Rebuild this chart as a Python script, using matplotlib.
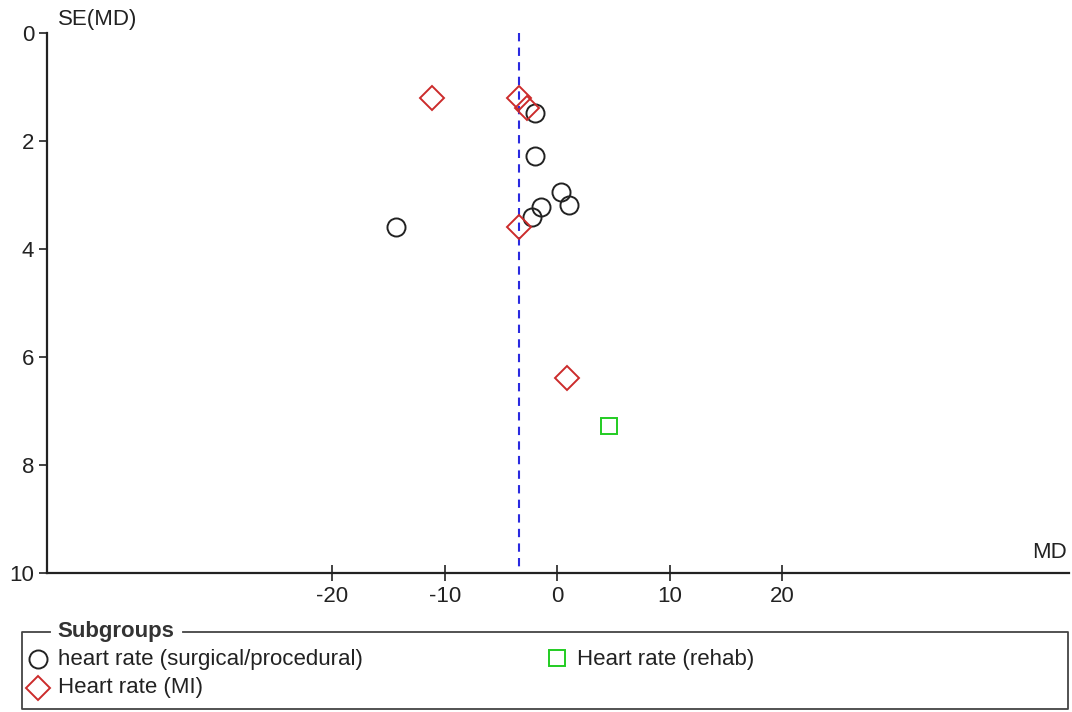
import matplotlib
matplotlib.use('Agg')
import matplotlib.pyplot as plt

# funnel plot data: mean difference (MD) vs its standard error
surg_md = [-2.0, -2.0, 0.3, 1.05, -1.45, -2.25, -14.3]
surg_se = [1.49, 2.28, 2.94, 3.19, 3.22, 3.40, 3.59]
mi_md = [-11.1, -3.4, -2.65, -3.4, 0.9]
mi_se = [1.20, 1.20, 1.39, 3.60, 6.38]
rehab_md = [4.6]
rehab_se = [7.28]
pooled_md = -3.4

x_ticks = [-20, -10, 0, 10, 20]
y_ticks = [0, 2, 4, 6, 8, 10]
legend_labels = ['heart rate (surgical/procedural)', 'Heart rate (MI)', 'Heart rate (rehab)']

plt.rcParams['font.family'] = ['Liberation Sans', 'DejaVu Sans']
FS = 16
TXT = '#222222'

W, H = 1072, 712
fig = plt.figure(figsize=(W / 100, H / 100), dpi=100)
ax = fig.add_axes([46.7 / W, 1 - 573 / H, (1069 - 46.7) / W, 540 / H])

ax.plot(surg_md, surg_se, 'o', ms=13, mfc='none', mec='#222222', mew=1.4, clip_on=False, zorder=3)
ax.plot(mi_md, mi_se, 'D', ms=12.5, mfc='none', mec='#cc2b2b', mew=1.4, clip_on=False, zorder=3)
ax.plot(rehab_md, rehab_se, 's', ms=11.5, mfc='none', mec='#22cc22', mew=1.4, clip_on=False, zorder=3)
ax.plot([pooled_md, pooled_md], [0, 10], '--', color='#2a2ae0', lw=1.5, dashes=(4, 3), zorder=2)

ax.set_xlim(-45.4, 45.5)
ax.set_ylim(10, 0)
ax.set_xticks(x_ticks)
ax.set_yticks(y_ticks)
ax.set_xticklabels([str(t) for t in x_ticks])
ax.set_yticklabels([str(t) for t in y_ticks])
for s in ['top', 'right']:
    ax.spines[s].set_visible(False)
for s in ['left', 'bottom']:
    ax.spines[s].set_linewidth(1.6)
    ax.spines[s].set_color('#222222')
ax.tick_params(axis='x', direction='inout', length=12, width=1.2, color='#222222',
               labelsize=FS, labelcolor=TXT, pad=3)
ax.tick_params(axis='y', direction='out', length=6, width=1.2, color='#222222',
               labelsize=FS, labelcolor=TXT, pad=3)

fig.text(58 / W, 1 - 19 / H, 'SE(MD)', fontsize=FS, color=TXT, va='center', ha='left')
fig.text(1067 / W, 1 - 553 / H, 'MD', fontsize=FS, color=TXT, va='center', ha='right')

# legend box drawn by hand (title breaks the top border)
lg = fig.add_axes([0, 0, 1, 1])
lg.set_xlim(0, W)
lg.set_ylim(H, 0)
lg.axis('off')
box_c = '#444444'
lg.plot([50, 22, 22, 1068, 1068, 183], [632, 632, 709, 709, 632, 632], color=box_c, lw=1.3)
lg.text(57, 632, 'Subgroups', fontsize=FS, fontweight='bold', color='#333333', va='center', ha='left')
lg.plot([38], [659], 'o', ms=13, mfc='none', mec='#222222', mew=1.4)
lg.text(58, 659, legend_labels[0], fontsize=FS, color=TXT, va='center', ha='left')
lg.plot([38], [688], 'D', ms=12.5, mfc='none', mec='#cc2b2b', mew=1.4)
lg.text(58, 688, legend_labels[1], fontsize=FS, color=TXT, va='center', ha='left')
lg.plot([557], [658], 's', ms=11.5, mfc='none', mec='#22cc22', mew=1.4)
lg.text(577, 659, legend_labels[2], fontsize=FS, color=TXT, va='center', ha='left')

fig.savefig('out.png', dpi=100)
